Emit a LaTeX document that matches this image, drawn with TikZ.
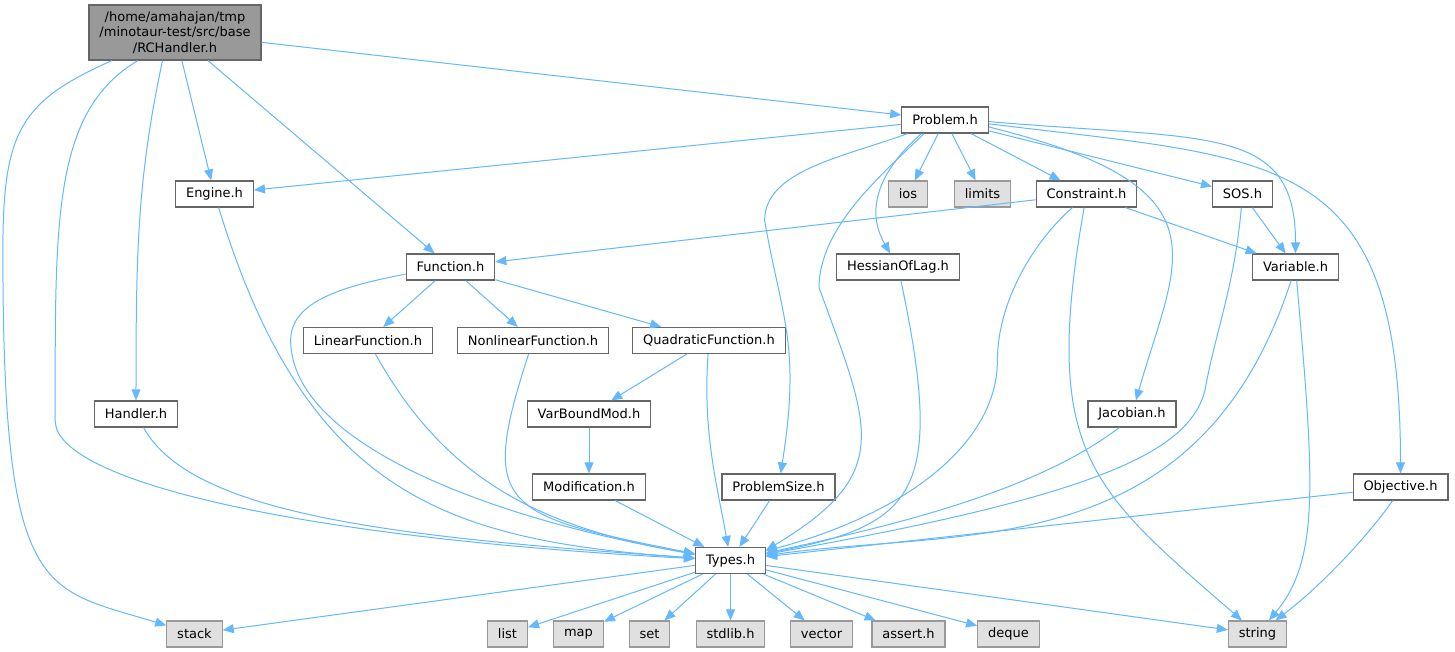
\documentclass[tikz,border=0pt]{standalone}
\usepackage{fontspec}
\setmainfont{DejaVu Sans}
\usepackage{tikz}
\usetikzlibrary{positioning}
\usetikzlibrary{arrows.meta}
\definecolor{deplink}{HTML}{63B8FF}
\definecolor{boxline}{HTML}{666666}
\definecolor{sysline}{HTML}{999999}
\definecolor{sysfill}{HTML}{E0E0E0}
\definecolor{rootfill}{HTML}{999999}
\newcommand{\hfont}{\fontsize{13}{15.5}\selectfont}

\begin{document}
\begin{tikzpicture}[line width=1pt,
  hdr/.style={rectangle,draw=boxline,fill=white,font=\hfont,line width=1.2pt,minimum height=26pt,inner xsep=10.4pt,inner ysep=0pt},
  sys/.style={hdr,draw=sysline,fill=sysfill},
  root/.style={hdr,fill=rootfill,align=center,minimum height=55pt},
  dep/.style={->,>={Triangle[length=11pt,width=9pt]},color=deplink}]

  \path[use as bounding box,fill=white] (-175pt,32.5pt) rectangle (1280pt,-619.5pt);

  % 0. Ebene
  \node[root] (RCH) at (0,0) {/home/amahajan/tmp\\/minotaur-test/src/base\\/RCHandler.h};
  \node[hdr] (Prob) [below right=87.5pt and 770pt of RCH.center,anchor=center] {Problem.h};

  % 1. Ebene
  \node[hdr] (Eng)  [below right=161.5pt and 39.5pt of RCH.center,anchor=center] {Engine.h};
  \node[sys] (ios)  [below left=74pt and 37pt of Prob.center,anchor=center] {ios};
  \node[sys] (lim)  [below right=74pt and 37.5pt of Prob.center,anchor=center] {limits};
  \node[hdr] (Cons) [below right=74pt and 141.5pt of Prob.center,anchor=center] {Constraint.h};
  \node[hdr] (SOS)  [below right=74pt and 297.5pt of Prob.center,anchor=center] {SOS.h};

  % 2. Ebene
  \node[hdr] (Func) [below right=234.5pt and 275.5pt of RCH.center,anchor=center] {Function.h};
  \node[hdr] (Hess) [below left=147pt and 47pt of Prob.center,anchor=center] {HessianOfLag.h};
  \node[hdr] (Var)  [below right=73pt and 53pt of SOS.center,anchor=center] {Variable.h};

  % 3. Ebene
  \node[hdr] (Lin)    [below left=73.5pt and 82.5pt of Func.center,anchor=center] {LinearFunction.h};
  \node[hdr] (Nonlin) [below right=73.5pt and 82.5pt of Func.center,anchor=center] {NonlinearFunction.h};
  \node[hdr] (Quad)   [below right=73.5pt and 258.5pt of Func.center,anchor=center] {QuadraticFunction.h};

  % 4. Ebene
  \node[hdr] (Hand) [below left=381.5pt and 39pt of RCH.center,anchor=center] {Handler.h};
  \node[hdr] (VBM)  [below left=73.5pt and 120pt of Quad.center,anchor=center] {VarBoundMod.h};
  \node[hdr] (Jac)  [below right=220pt and 45.5pt of Cons.center,anchor=center] {Jacobian.h};

  % 5. Ebene
  \node[hdr] (Mod)   [below=73pt of VBM.center,anchor=center] {Modification.h};
  \node[hdr] (PSize) [below right=146.5pt and 69.5pt of Quad.center,anchor=center] {ProblemSize.h};
  \node[hdr] (Obj)   [below right=220pt and 105pt of Var.center,anchor=center] {Objective.h};

  % 6. Ebene
  \node[hdr] (Typ) [below right=528pt and 555.5pt of RCH.center,anchor=center] {Types.h};

  % 7. Ebene
  \node[sys] (stack)  [below left=73.5pt and 536pt of Typ.center,anchor=center] {stack};
  \node[sys] (list)   [below left=73.5pt and 223pt of Typ.center,anchor=center] {list};
  \node[sys] (map)    [below left=73.5pt and 152pt of Typ.center,anchor=center] {map};
  \node[sys] (set)    [below left=73.5pt and 81pt of Typ.center,anchor=center] {set};
  \node[sys] (stdlib) [below=73.5pt of Typ.center,anchor=center] {stdlib.h};
  \node[sys] (vector) [below right=73.5pt and 91pt of Typ.center,anchor=center] {vector};
  \node[sys] (assert) [below right=73.5pt and 178pt of Typ.center,anchor=center] {assert.h};
  \node[sys] (deque)  [below right=73.5pt and 278pt of Typ.center,anchor=center] {deque};
  \node[sys] (string) [below right=73.5pt and 527pt of Typ.center,anchor=center] {string};

  \path[dep]
    (RCH) edge (Prob)
          edge (Eng)
          edge (Func)
    (RCH.-114) edge[out=-102,in=90,out distance=120pt,in distance=150pt] (Hand);
  \draw[dep] (RCH.-143) to[out=-149,in=90,out distance=100pt,in distance=200pt] ++(-82.5pt,-360pt)
                        to[out=-90,in=177,out distance=60pt,in distance=400pt] (Typ);
  \draw[dep] (RCH.-156) to[out=-156,in=90,out distance=100pt,in distance=120pt] ++(-109pt,-190pt)
                        to[out=-90,in=163,out distance=350pt,in distance=130pt] (stack);

  \path[dep]
    (Prob) edge (Eng)
           edge (ios)
           edge (lim)
           edge (Cons)
           edge (SOS)
    (Prob.-2)   edge[out=-5,in=90,out distance=220pt,in distance=130pt] (Var)
    (Prob.-5)   edge[out=-7,in=90,out distance=293pt,in distance=324pt] (Obj)
    (Prob.-9)   edge[out=-14,in=74,out distance=250pt,in distance=150pt] (Jac)
    (Prob.-150) edge[out=-139,in=120,out distance=40pt,in distance=60pt] (Hess);
  \draw[dep] (Prob.-147) to[out=-136,in=90,out distance=60pt,in distance=60pt] ++(-105pt,-154pt)
                         to[out=-70,in=31,out distance=150pt,in distance=150pt] (Typ.16);
  \draw[dep] (Prob.-160) to[out=-160,in=90,out distance=70pt,in distance=50pt] ++(-143pt,-87pt)
                         to[out=-80,in=81,out distance=100pt,in distance=130pt] (PSize);

  \path[dep]
    (Func) edge (Lin)
           edge (Nonlin)
           edge (Quad);
  \draw[dep] (Func.-171) to[out=-169,in=90,out distance=60pt,in distance=40pt] ++(-115pt,-66pt)
                         to[out=-90,in=170,out distance=100pt,in distance=220pt] (Typ);

  \path[dep]
    (Cons) edge (Func)
           edge (Var)
           edge[out=-100,in=139,out distance=250pt,in distance=200pt] (string);
  \draw[dep] (Cons.-136) to[out=-139,in=90,out distance=50pt,in distance=60pt] ++(-75pt,-153pt)
                         to[out=-90,in=15,out distance=80pt,in distance=150pt] (Typ);

  \path[dep] (SOS) edge (Var);
  \draw[dep] (SOS.-95) to[out=-95,in=80,out distance=80pt,in distance=60pt] ++(-36.4pt,-183pt)
                       to[out=-105,in=10,out distance=60pt,in distance=350pt] (Typ);

  \path[dep]
    (Eng)    edge[out=-73,in=176,out distance=300pt,in distance=250pt] (Typ)
    (Hess)   edge[out=-78,in=11,out distance=220pt,in distance=150pt] (Typ)
    (Var)    edge[out=-108,in=8,out distance=300pt,in distance=200pt] (Typ)
             edge[out=-85,in=50,out distance=200pt,in distance=80pt] (string)
    (Lin)    edge[out=-61,in=170,out distance=150pt,in distance=150pt] (Typ)
    (Nonlin) edge[out=-108,in=169,out distance=160pt,in distance=200pt] (Typ)
    (Quad)   edge (VBM)
             edge[out=-94,in=100,out distance=80pt,in distance=60pt] (Typ)
    (VBM)    edge (Mod)
    (Mod)    edge (Typ)
    (PSize)  edge (Typ)
    (Jac.-133) edge[out=-143,in=12,out distance=100pt,in distance=150pt] (Typ)
    (Hand)   edge[out=-61,in=176,out distance=100pt,in distance=300pt] (Typ)
    (Obj)    edge (Typ)
    (Obj.-120) edge[out=-125,in=37,out distance=50pt,in distance=50pt] (string);

  \path[dep]
    (Typ) edge (stack)
          edge (list)
          edge (map)
          edge (set)
          edge (stdlib)
          edge (vector)
          edge (assert)
          edge (deque)
          edge (string);

\end{tikzpicture}
\end{document}
